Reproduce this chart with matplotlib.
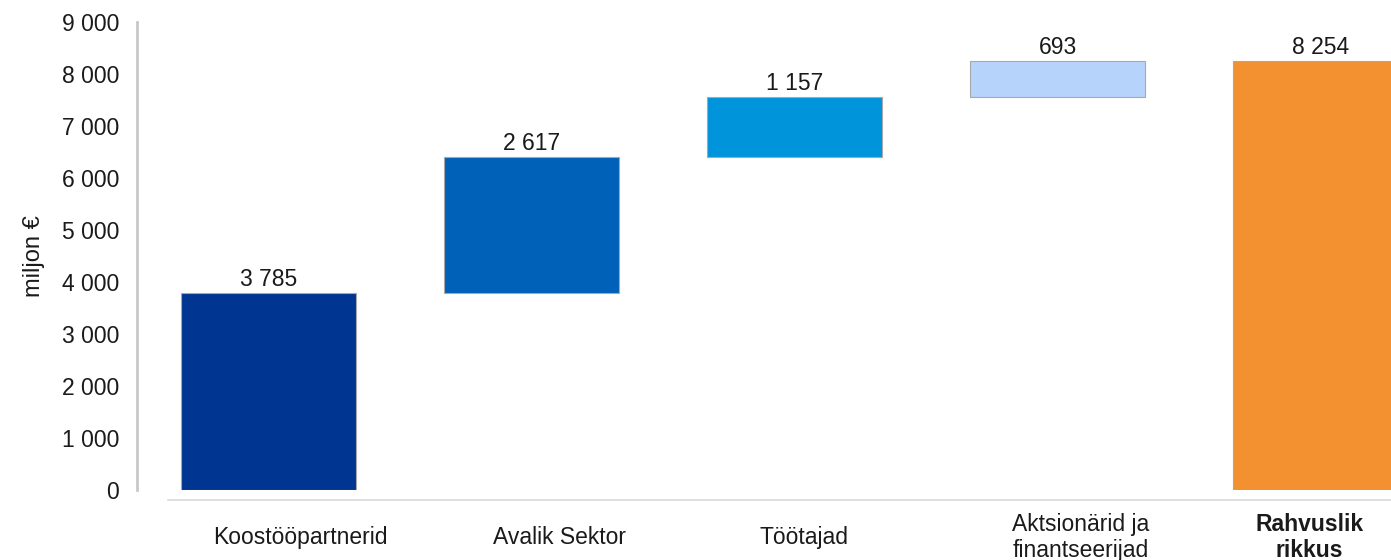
import numpy as np
import matplotlib.pyplot as plt

plt.rcParams["font.family"] = ["Liberation Sans", "DejaVu Sans"]

# Data
categories = ["Koostööpartnerid", "Avalik Sektor", "Töötajad",
              "Aktsionärid ja\nfinantseerijad", "Rahvuslik\nrikkus"]
values = [3785, 2617, 1157, 693, 8254]
is_total = [False, False, False, False, True]
colors = ["#003591", "#0061B8", "#0094DA", "#B6D3FC", "#F39131"]

# label shifts (points) as in the original layout
label_dx = [23, 20, 7, 17, -8]

# Waterfall bottoms
bottoms = []
running = 0
for v, t in zip(values, is_total):
    if t:
        bottoms.append(0)
    else:
        bottoms.append(running)
        running += v

fig = plt.figure(figsize=(13.91, 5.6), dpi=100)
ax = fig.add_axes([168 / 1391, 70 / 560, 1 - 168 / 1391, 468 / 560])

x = np.arange(len(values))
ax.bar(x, values, bottom=bottoms, width=0.665, color=colors,
       edgecolor="#a8a8a8", linewidth=0.8)

for xi, v, b in zip(x, values, bottoms):
    ax.annotate(f"{v:,}".replace(",", " "), (xi, b + v), xytext=(0, 1.5),
                textcoords="offset points", ha="center", va="bottom",
                fontsize=16.5, color="#1a1a1a")

# category labels
for xi, name, dx, t in zip(x, categories, label_dx, is_total):
    ax.annotate(name, (xi, 0), xycoords=("data", "axes fraction"),
                xytext=(dx, -34), textcoords="offset points",
                ha="center", va="center", multialignment="center",
                fontsize=16.5, color="#1a1a1a", linespacing=1.15,
                fontweight="bold" if t else "normal", annotation_clip=False)

ax.set_xlim(-0.382, 4.268)
ax.set_ylim(0, 9000)
ax.set_yticks(range(0, 9001, 1000))
ax.set_yticklabels([f"{t:,}".replace(",", " ") for t in range(0, 9001, 1000)])
ax.set_xticks([])

ax.tick_params(axis="y", length=0, pad=13, labelsize=16.5, labelcolor="#1a1a1a")

ax.spines["top"].set_visible(False)
ax.spines["right"].set_visible(False)
ax.spines["left"].set_position(("outward", 22.3))
ax.spines["left"].set_color("#c8c8c8")
ax.spines["left"].set_linewidth(2)
ax.spines["bottom"].set_position(("outward", 7.2))
ax.spines["bottom"].set_color("#d9d9d9")
ax.spines["bottom"].set_linewidth(1.2)

ax.set_ylabel("miljon €", fontsize=17, color="#1a1a1a", labelpad=12)

plt.savefig("out.png", dpi=100)
